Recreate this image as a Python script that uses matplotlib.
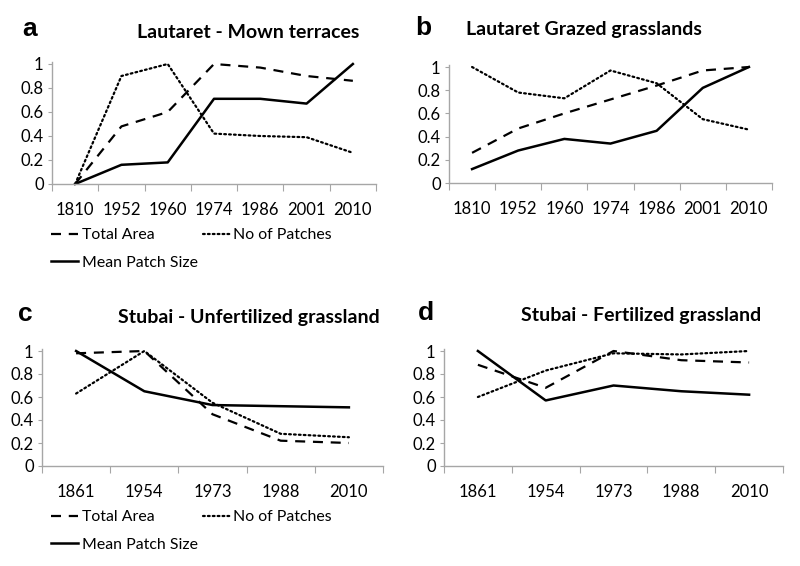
import matplotlib
matplotlib.use("Agg")
import matplotlib.pyplot as plt
from matplotlib.lines import Line2D

# ---- data ----
years_lautaret = ["1810", "1952", "1960", "1974", "1986", "2001", "2010"]
years_stubai = ["1861", "1954", "1973", "1988", "2010"]

a_total_area = [0.0, 0.48, 0.60, 1.00, 0.97, 0.90, 0.86]
a_no_patches = [0.0, 0.90, 1.00, 0.42, 0.40, 0.39, 0.26]
a_mean_size = [0.0, 0.16, 0.18, 0.71, 0.71, 0.67, 1.00]

b_total_area = [0.26, 0.47, 0.60, 0.72, 0.84, 0.97, 1.00]
b_no_patches = [1.00, 0.78, 0.73, 0.97, 0.86, 0.55, 0.46]
b_mean_size = [0.12, 0.28, 0.38, 0.34, 0.45, 0.82, 1.00]

c_total_area = [0.98, 1.00, 0.45, 0.22, 0.20]
c_no_patches = [0.63, 1.00, 0.55, 0.28, 0.25]
c_mean_size = [1.00, 0.65, 0.53, 0.52, 0.51]

d_total_area = [0.88, 0.68, 1.00, 0.92, 0.90]
d_no_patches = [0.60, 0.83, 0.98, 0.97, 1.00]
d_mean_size = [1.00, 0.57, 0.70, 0.65, 0.62]

yticks = [0, 0.2, 0.4, 0.6, 0.8, 1]
ytick_labels = ["0", "0.2", "0.4", "0.6", "0.8", "1"]

series_labels = ["Total Area", "No of Patches", "Mean Patch Size"]

# ---- style ----
FONT = ["Lato", "DejaVu Sans"]
plt.rcParams["font.family"] = FONT
W, H = 800, 566
fig = plt.figure(figsize=(8, 5.66), dpi=100)
fig.patch.set_facecolor("white")

GRAY = "#a6a6a6"
LW = 1.6
TICK_FS = 12
LEG_FS = 11.4
dash_style = dict(color="black", lw=LW, linestyle=(0, (4.5, 3.5)))
dot_style = dict(color="black", lw=LW, linestyle=(0, (0.8, 1.4)), dash_capstyle="round")
solid_style = dict(color="black", lw=LW + 0.2, linestyle="-")


def make_axes(left, right, y0, y1):
    return fig.add_axes([left / W, (H - y0) / H, (right - left) / W, (y0 - y1) / H])


def panel(ax, cats, total, patches, mean):
    x = list(range(len(cats)))
    ax.plot(x, total, clip_on=False, **dash_style)
    ax.plot(x, patches, clip_on=False, **dot_style)
    ax.plot(x, mean, clip_on=False, **solid_style)
    ax.set_xlim(-0.5, len(cats) - 0.5)
    ax.set_ylim(0, 1)
    for s in ["top", "right"]:
        ax.spines[s].set_visible(False)
    for s in ["left", "bottom"]:
        ax.spines[s].set_color(GRAY)
        ax.spines[s].set_linewidth(1.0)
    ax.spines["left"].set_bounds(0, 1.02)
    ax.set_yticks(yticks)
    ax.set_yticklabels(ytick_labels)
    ax.tick_params(axis="y", length=3, color=GRAY, labelsize=TICK_FS, pad=3)
    ax.set_xticks([i - 0.5 for i in range(len(cats) + 1)])
    ax.set_xticklabels([])
    ax.set_xticks(x, minor=True)
    ax.set_xticklabels(cats, minor=True)
    ax.tick_params(axis="x", which="major", length=5, color=GRAY)
    ax.tick_params(axis="x", which="minor", length=0, labelsize=TICK_FS, pad=13)
    ax.set_facecolor("none")


axa = make_axes(52, 376, 184, 64)
panel(axa, years_lautaret, a_total_area, a_no_patches, a_mean_size)
axb = make_axes(449, 772, 183, 67)
panel(axb, years_lautaret, b_total_area, b_no_patches, b_mean_size)
axc = make_axes(42, 383, 466, 351)
panel(axc, years_stubai, c_total_area, c_no_patches, c_mean_size)
axd = make_axes(444, 783, 466, 351)
panel(axd, years_stubai, d_total_area, d_no_patches, d_mean_size)

# panel letters and titles
letter_kw = dict(fontsize=19, fontweight="bold", family=["Liberation Sans", "DejaVu Sans"], va="center")
title_kw = dict(fontsize=14, fontweight="bold", family=FONT, va="center")
fig.text(22 / W, 1 - 29 / H, "a", **letter_kw)
fig.text(137 / W, 1 - 33 / H, "Lautaret - Mown terraces", **title_kw)
fig.text(415 / W, 1 - 28 / H, "b", **letter_kw)
fig.text(466 / W, 1 - 30 / H, "Lautaret Grazed grasslands", **title_kw)
fig.text(18 / W, 1 - 314 / H, "c", **letter_kw)
fig.text(118 / W, 1 - 317 / H, "Stubai - Unfertilized grassland", **title_kw)
fig.text(418 / W, 1 - 313 / H, "d", **letter_kw)
fig.text(521 / W, 1 - 316 / H, "Stubai - Fertilized grassland", **title_kw)

# legends
handles = [
    Line2D([], [], **dash_style),
    Line2D([], [], **solid_style),
    Line2D([], [], **dot_style),
]
labels = [series_labels[0], series_labels[2], series_labels[1]]
for (lx, ly) in [(51, 228), (51, 510)]:
    fig.legend(handles, labels, loc="upper left", bbox_to_anchor=(lx / W, 1 - ly / H),
               ncol=2, frameon=False, fontsize=LEG_FS, handlelength=1.7,
               handletextpad=0.25, columnspacing=0.3, labelspacing=0.85,
               borderaxespad=0, borderpad=0)

fig.savefig("out.png", dpi=100, facecolor="white")
